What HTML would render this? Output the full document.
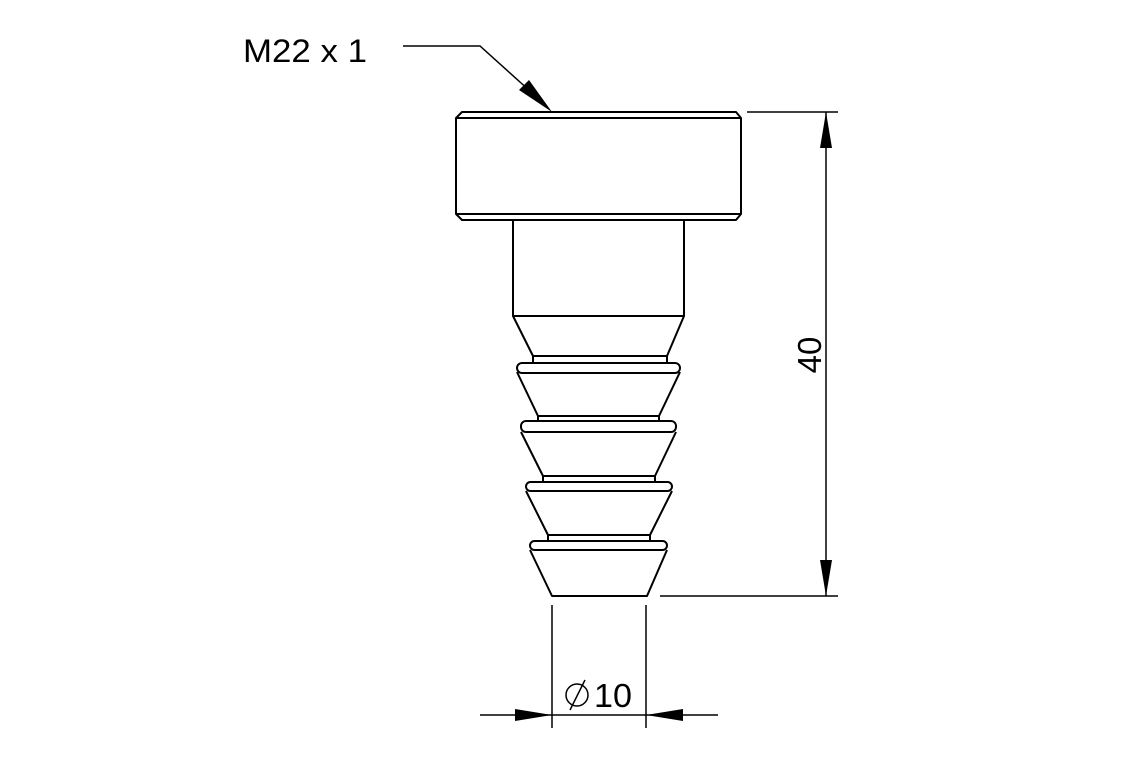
<!DOCTYPE html>
<html><head><style>body{margin:0;background:#fff}svg{display:block}</style></head><body>
<svg width="1140" height="760" viewBox="0 0 1140 760" xmlns="http://www.w3.org/2000/svg">
<g fill="none" stroke="#000" stroke-width="2" stroke-linejoin="round">
<path d="M462 112 H736 L741 118 V214 L736 220 H462 L456 214 V118 Z"/>
<path d="M456 118 H741 M456 214 H741"/>
<path d="M513 220 V316 H684 V220"/>
<path d="M513 316 L533 356 M684 316 L667 356"/>
<path d="M533 356 H667 M533 356 V363 M667 356 V363 M533 363 H667"/>
<rect x="517" y="363" width="163" height="10" rx="5"/>
<path d="M517 372 L538 416 M680 372 L659 416"/>
<path d="M538 416 H659 M538 416 V421 M659 416 V421"/>
<rect x="521" y="421" width="155" height="11" rx="5"/>
<path d="M521 432 L543 476 M676 432 L655 476"/>
<path d="M543 476 H655 M543 476 V482 M655 476 V482"/>
<rect x="526" y="482" width="146" height="9" rx="4.5"/>
<path d="M526 491 L548 535 M672 491 L650 535"/>
<path d="M548 535 H650 M548 535 V541 M650 535 V541"/>
<rect x="530" y="541" width="137" height="9" rx="4.5"/>
<path d="M530 550 L552 596 H647 L667 550"/>
</g>
<g stroke="#000" stroke-width="1.5" fill="none">
<path d="M403 46 H480 L540 100"/>
<path d="M747 112 H838 M660 596 H838 M826 112 V596"/>
<path d="M552 605 V728 M646 605 V728 M480 715 H718"/>
<circle cx="577" cy="695" r="11"/>
<path d="M570 710 L585 680"/>
</g>
<g fill="#000">
<polygon points="552,112 519,90 529,80"/>
<polygon points="826,112 820,148 832,148"/>
<polygon points="826,596 820,560 832,560"/>
<polygon points="552,715 515,709 515,721"/>
<polygon points="646,715 683,709 683,721"/>
</g>
<g font-family="'Liberation Sans',sans-serif" fill="#000">
<text x="243" y="62" font-size="32" textLength="124" lengthAdjust="spacingAndGlyphs">M22 x 1</text>
<text x="594" y="707" font-size="33" textLength="38" lengthAdjust="spacingAndGlyphs">10</text>
<text transform="translate(821,355) rotate(-90)" font-size="33" text-anchor="middle">40</text>
</g>
</svg>
</body></html>
